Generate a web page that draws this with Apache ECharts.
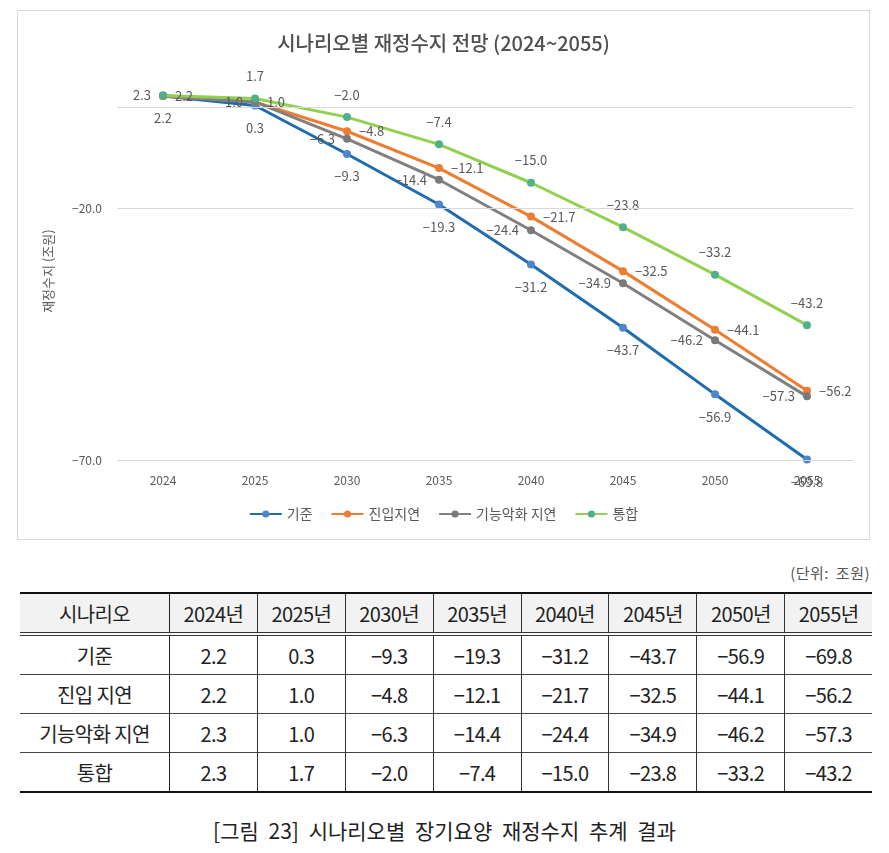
<!DOCTYPE html>
<html>
<head>
<meta charset="utf-8">
<script src="https://cdn.jsdelivr.net/npm/echarts@6/dist/echarts.min.js"></script>
<style>
  html, body { margin: 0; padding: 0; background: #fff; }
  body { width: 889px; height: 853px; position: relative; font-family: "Noto Sans CJK KR", "Noto Sans", sans-serif; }
  #box { position: absolute; left: 17px; top: 10px; width: 853px; height: 530px; box-sizing: border-box; border: 1px solid #d9d9d9; }
  #chart { width: 851px; height: 528px; }
  #unit { position: absolute; right: 19px; top: 562px; font-size: 15px; color: #555; letter-spacing: 0.5px; word-spacing: 3px; }
  #tbl { position: absolute; left: 20px; top: 592px; width: 852px; border-collapse: collapse; font-size: 20px; color: #222; letter-spacing: -0.6px; }
  #tbl th, #tbl td { text-align: center; height: 38px; padding: 0; border-left: 1px solid #333; }
  #tbl th:first-child, #tbl td:first-child { border-left: none; width: 149px; }
  #tbl th:nth-child(2), #tbl td:nth-child(2) { border-left: 1.5px solid #222; }
  #tbl thead tr { background: #f2f2f2; border-top: 2.5px solid #111; border-bottom: 4px double #333; }
  #tbl th { font-weight: normal; }
  #tbl tbody tr { border-bottom: 1px solid #444; }
  #tbl tbody tr:last-child { border-bottom: 2.5px solid #111; }
  #caption { position: absolute; left: 0; width: 889px; top: 815px; text-align: center; font-size: 21px; color: #222; word-spacing: 5px; }
</style>
</head>
<body>
<div id="box"><div id="chart"></div></div>
<div id="unit">(단위: 조원)</div>
<table id="tbl"><thead></thead><tbody></tbody></table>
<div id="caption">[그림 23] 시나리오별 장기요양 재정수지 추계 결과</div>
<script>
// 연도와 시나리오별 재정수지 (조원)
const years = ['2024', '2025', '2030', '2035', '2040', '2045', '2050', '2055'];
const scenarioNames = ['기준', '진입지연', '기능악화 지연', '통합'];
const tableNames = ['기준', '진입 지연', '기능악화 지연', '통합'];
const gijun = [2.2, 0.3, -9.3, -19.3, -31.2, -43.7, -56.9, -69.8];
const jinip = [2.2, 1.0, -4.8, -12.1, -21.7, -32.5, -44.1, -56.2];
const gineung = [2.3, 1.0, -6.3, -14.4, -24.4, -34.9, -46.2, -57.3];
const tonghap = [2.3, 1.7, -2.0, -7.4, -15.0, -23.8, -33.2, -43.2];
const gridValues = [0, -20, -70];
const yLabelValues = [-20, -70];

const FONT = '"Noto Sans CJK KR", "Noto Sans", sans-serif';
const fmt = v => v.toFixed(1).replace('-', '\u2212');

// 표 만들기
const allRows = [gijun, jinip, gineung, tonghap];
const thead = document.querySelector('#tbl thead');
const tbody = document.querySelector('#tbl tbody');
thead.innerHTML = '<tr><th>시나리오</th>' + years.map(y => '<th>' + y + '년</th>').join('') + '</tr>';
tbody.innerHTML = allRows.map((row, i) =>
  '<tr><td>' + tableNames[i] + '</td>' + row.map(v => '<td>' + fmt(v) + '</td>').join('') + '</tr>'
).join('');

const chart = echarts.init(document.getElementById('chart'));

const labelBase = { show: true, fontSize: 13, color: '#595959', fontFamily: FONT, formatter: p => fmt(p.value) };

function makeSeries(name, data, lineColor, dotColor, pos, dist) {
  return {
    name: name,
    type: 'line',
    data: data,
    symbol: 'circle',
    symbolSize: 8,
    lineStyle: { width: 3, color: lineColor },
    itemStyle: { color: dotColor },
    label: Object.assign({ position: pos, distance: dist }, labelBase),
    emphasis: { disabled: true }
  };
}

const option = {
  animation: false,
  textStyle: { fontFamily: FONT },
  title: {
    text: '시나리오별 재정수지 전망 (2024~2055)',
    left: 'center',
    top: 17,
    textStyle: { fontSize: 20, fontWeight: 500, color: '#505050', fontFamily: FONT }
  },
  legend: {
    bottom: 13,
    left: 'center',
    itemWidth: 32,
    itemHeight: 9,
    itemGap: 18,
    textStyle: { fontSize: 14, color: '#595959', fontFamily: FONT },
    data: scenarioNames
  },
  grid: { left: 99, top: 70.75, width: 736, height: 378.75 },
  xAxis: {
    type: 'category',
    data: years,
    axisLine: { show: false, onZero: false },
    axisTick: { show: false },
    axisLabel: { margin: 14, fontSize: 12, color: '#595959' }
  },
  yAxis: {
    type: 'value',
    min: -70,
    max: 5,
    interval: 10,
    name: '재정수지 (조원)',
    nameLocation: 'middle',
    nameRotate: 90,
    nameGap: 62,
    nameTextStyle: { fontSize: 13, color: '#595959' },
    splitLine: { show: false },
    axisLine: { show: false },
    axisTick: { show: false },
    axisLabel: {
      margin: 15,
      fontSize: 12,
      color: '#595959',
      formatter: v => yLabelValues.includes(v) ? fmt(v) : ''
    }
  },
  series: [
    Object.assign(makeSeries(scenarioNames[0], gijun, '#1f6cb0', '#4f86c9', 'bottom', 12), {
      markLine: {
        silent: true,
        symbol: 'none',
        label: { show: false },
        lineStyle: { color: '#d9d9d9', type: 'solid', width: 1 },
        data: gridValues.map(v => ({ yAxis: v }))
      },
      z: 2
    }),
    makeSeries(scenarioNames[1], jinip, '#ed7d31', '#ed7d31', 'right', 8),
    makeSeries(scenarioNames[2], gineung, '#808080', '#7a7a7a', 'left', 8),
    makeSeries(scenarioNames[3], tonghap.map((v, i) => i === 0 ? { value: v, label: { show: false } } : v),
      '#92d050', '#4fb08a', 'top', 12)
  ]
};

chart.setOption(option);
</script>
</body>
</html>
